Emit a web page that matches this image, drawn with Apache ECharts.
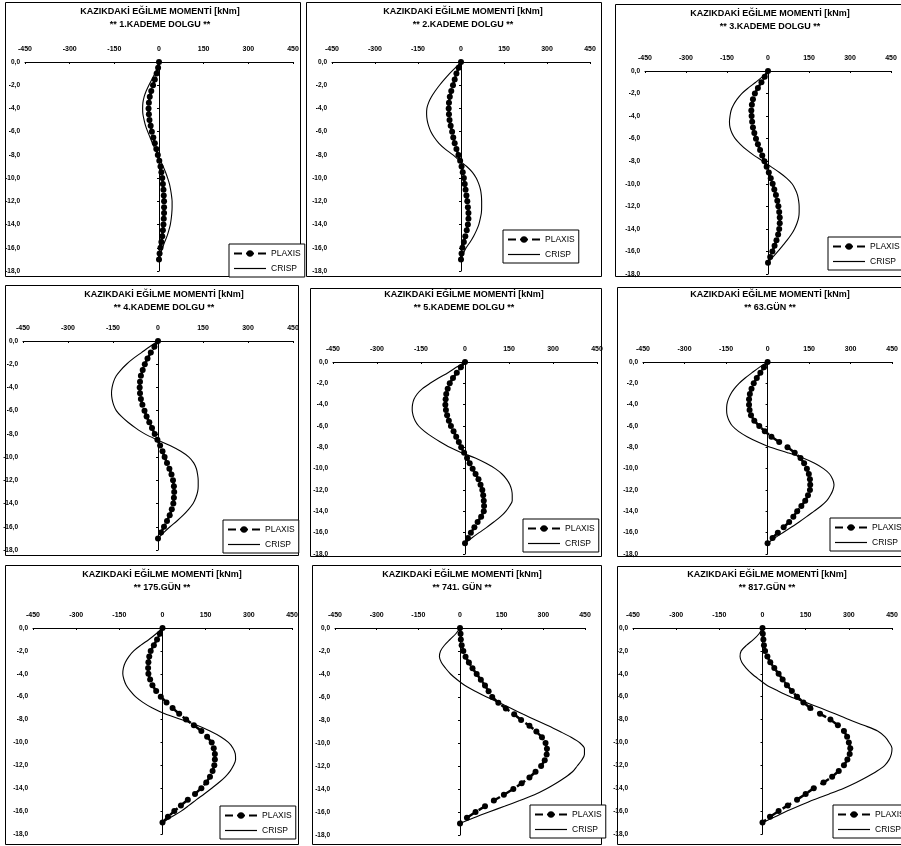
<!DOCTYPE html>
<html><head><meta charset="utf-8">
<script src="https://cdn.jsdelivr.net/npm/echarts@6/dist/echarts.min.js"></script>
<style>html,body{margin:0;padding:0;background:#fff}#c{width:901px;height:846px}</style>
</head><body><div id="c"></div>
<script>
const mainTitle = 'KAZIKDAKİ EĞİLME MOMENTİ [kNm]';
const subTitles = ['** 1.KADEME DOLGU **','** 2.KADEME DOLGU **','** 3.KADEME DOLGU **','** 4.KADEME DOLGU **','** 5.KADEME DOLGU **','** 63.GÜN **','** 175.GÜN **','** 741. GÜN **','** 817.GÜN **'];
const legendNames = ['PLAXIS','CRISP'];
const depth = [0,-0.5,-1,-1.5,-2,-2.5,-3,-3.5,-4,-4.5,-5,-5.5,-6,-6.5,-7,-7.5,-8,-8.5,-9,-9.5,-10,-10.5,-11,-11.5,-12,-12.5,-13,-13.5,-14,-14.5,-15,-15.5,-16,-16.5,-17];

const crisp1 = [0,-6,-14,-24,-34,-43,-50,-54,-55,-54,-50,-45,-38,-30,-22,-13,-4,5,14,22,29,35,39,42,44,44,43,41,38,33,27,19,12,5,0];
const plaxis1 = [0,-3,-8,-14,-20,-26,-31,-34,-35,-34,-32,-28,-24,-19,-14,-9,-4,1,5,8,11,13,15,16,17,17,17,16,15,13,11,8,5,2,0];
const crisp2 = [0,-20,-40,-58,-75,-90,-103,-113,-119,-120,-118,-113,-105,-93,-77,-55,-28,-5,20,40,53,62,68,71,72,72,71,67,62,54,44,32,18,8,0];
const plaxis2 = [0,-8,-16,-22,-28,-34,-39,-42,-43,-42,-40,-36,-31,-27,-22,-16,-9,-3,2,6,10,13,16,19,22,24,26,26,24,20,15,10,5,2,0];
const crisp3 = [0,-20,-45,-72,-96,-113,-126,-135,-139,-141,-139,-132,-120,-101,-78,-50,-18,12,42,68,88,100,108,112,114,114,112,106,97,85,70,53,36,17,0];
const plaxis3 = [0,-12,-24,-37,-48,-55,-59,-61,-60,-58,-55,-50,-44,-37,-29,-21,-13,-5,3,10,17,23,29,34,38,41,43,43,41,37,31,24,16,8,0];
const crisp4 = [0,-28,-55,-82,-105,-124,-139,-148,-153,-155,-153,-148,-139,-122,-100,-74,-44,-4,40,76,103,119,128,132,134,134,132,126,117,102,84,63,40,19,0];
const plaxis4 = [0,-12,-24,-35,-44,-51,-57,-60,-61,-60,-57,-52,-45,-38,-29,-20,-11,-2,7,15,22,30,38,45,50,53,54,53,51,46,39,30,20,10,0];
const crisp5 = [0,-30,-58,-90,-119,-145,-163,-174,-179,-180,-177,-170,-158,-138,-113,-84,-52,-12,35,72,103,126,142,153,159,161,161,152,139,121,98,74,48,23,0];
const plaxis5 = [0,-14,-28,-41,-52,-59,-64,-66,-67,-65,-61,-55,-48,-39,-30,-21,-13,-3,7,16,26,36,46,53,59,62,64,65,64,55,43,32,20,10,0];
const crisp6 = [0,-30,-56,-81,-103,-120,-133,-142,-147,-148,-146,-139,-127,-105,-74,-35,10,72,128,170,202,224,235,240,236,227,214,193,167,141,114,85,55,26,0];
const plaxis6 = [0,-13,-26,-39,-50,-58,-64,-67,-67,-65,-60,-48,-30,-10,14,42,72,98,119,132,142,149,153,154,153,146,136,122,107,93,78,58,37,18,0];
const crisp7 = [0,-22,-47,-75,-100,-117,-129,-136,-138,-134,-126,-112,-94,-68,-35,8,65,120,165,202,229,245,253,254,247,235,218,196,171,145,118,92,65,32,0];
const plaxis7 = [0,-9,-19,-30,-41,-46,-49,-50,-49,-43,-35,-22,-6,14,35,58,82,109,135,155,171,178,182,182,180,174,165,152,135,113,88,64,41,19,0];
const crisp8 = [0,-15,-36,-56,-70,-74,-67,-52,-34,-10,18,55,96,142,185,228,272,318,360,400,432,448,448,438,422,405,378,346,310,268,215,160,104,50,0];
const plaxis8 = [0,2,3,6,12,20,32,45,60,75,90,103,116,138,165,195,220,250,275,295,308,313,312,305,292,272,250,222,192,158,122,90,56,25,0];
const crisp9 = [0,-12,-31,-55,-74,-78,-72,-57,-37,-12,15,54,97,150,202,252,300,352,400,425,440,450,448,440,425,398,364,326,283,232,178,130,85,44,0];
const plaxis9 = [0,1,3,5,9,17,27,41,56,70,85,102,120,142,166,200,236,262,283,294,300,305,303,295,283,265,242,212,178,150,120,88,56,26,0];

const crispSets = [crisp1,crisp2,crisp3,crisp4,crisp5,crisp6,crisp7,crisp8,crisp9];
const plaxisSets = [plaxis1,plaxis2,plaxis3,plaxis4,plaxis5,plaxis6,plaxis7,plaxis8,plaxis9];

// layout (pixels)
const grids = [
  {left:25, top:62, width:268, height:209},
  {left:332, top:62, width:258, height:209},
  {left:645, top:71, width:246, height:203},
  {left:23, top:341, width:270, height:209},
  {left:333, top:362, width:264, height:192},
  {left:643, top:362, width:252, height:192},
  {left:33, top:628, width:259, height:206},
  {left:335, top:628, width:250, height:207},
  {left:633, top:628, width:259, height:206}
];
const frames = [[5,2,295,274],[306,2,295,274],[615,4,292,272],[5,285,293,270],[310,288,291,268],[617,287,290,269],[5,565,293,279],[312,565,289,279],[617,566,290,278]];
const titlePos = [[160,12],[463,12],[770,14],[164,295],[464,295],[770,295],[162,575],[462,575],[767,575]];
const legendPos = [[229,244],[503,230],[828,237],[223,520],[523,519],[830,518],[220,806],[530,805],[833,805]];

const FONT = 'Liberation Sans, Arial, sans-serif';
const option = {animation:false, backgroundColor:'#fff', grid:[], xAxis:[], yAxis:[], series:[], legend:[], graphic:[]};

for (let k=0;k<9;k++){
  option.grid.push(Object.assign({containLabel:false}, grids[k]));
  option.xAxis.push({type:'value', gridIndex:k, position:'top', min:-450, max:450, interval:150,
    axisLine:{show:true, onZero:false, lineStyle:{color:'#000', width:1}},
    axisTick:{show:true, inside:true, length:2, lineStyle:{color:'#000'}},
    axisLabel:{color:'#000', fontSize:7, fontWeight:'bold', fontFamily:FONT, margin:9},
    splitLine:{show:false}});
  option.yAxis.push({type:'value', gridIndex:k, position:'left', min:-18, max:0, interval:2,
    axisLine:{show:false, onZero:false}, axisTick:{show:false},
    axisLabel:{color:'#000', fontSize:6.5, fontWeight:'bold', fontFamily:FONT, margin:5,
      formatter:v=>v.toFixed(1).replace('.',',')},
    splitLine:{show:false}});
  option.yAxis.push({type:'value', gridIndex:k, min:-18, max:0, interval:2,
    axisLine:{show:true, onZero:true, lineStyle:{color:'#000', width:1}},
    axisTick:{show:true, inside:true, length:2, lineStyle:{color:'#000'}},
    axisLabel:{show:false}, splitLine:{show:false}});
  option.series.push({name:'CRISP', type:'line', xAxisIndex:k, yAxisIndex:2*k,
    data:depth.map((d,i)=>[crispSets[k][i], d]), smooth:0.3, symbol:'none',
    lineStyle:{color:'#000', width:1.1}, itemStyle:{color:'#000'}, z:3});
  option.series.push({name:'PLAXIS', type:'line', xAxisIndex:k, yAxisIndex:2*k,
    data:depth.map((d,i)=>[plaxisSets[k][i], d]), symbol:'circle', symbolSize:6, showAllSymbol:true,
    lineStyle:{color:'#000', width:2.5, type:'dashed'}, itemStyle:{color:'#000'}, z:4});
  option.legend.push({left:legendPos[k][0], top:legendPos[k][1], orient:'vertical',
    data:[{name:legendNames[0]}, {name:legendNames[1], itemStyle:{opacity:0}, lineStyle:{width:1.2, type:'solid', color:'#000'}}],
    backgroundColor:'#fff', borderColor:'#000', borderWidth:1, borderRadius:0, padding:[5,4,4,4], itemGap:6,
    itemWidth:32, itemHeight:8, selectedMode:false,
    textStyle:{fontSize:8.5, color:'#000', fontFamily:FONT}});
  const f = frames[k];
  option.graphic.push({type:'rect', z:-1, shape:{x:f[0]+0.5, y:f[1]+0.5, width:f[2], height:f[3]}, style:{fill:'none', stroke:'#000', lineWidth:1}});
  option.graphic.push({type:'text', x:titlePos[k][0], y:titlePos[k][1], style:{text:mainTitle, align:'center', verticalAlign:'middle', font:'bold 9px '+FONT, fill:'#000'}});
  option.graphic.push({type:'text', x:titlePos[k][0], y:titlePos[k][1]+13, style:{text:subTitles[k], align:'center', verticalAlign:'middle', font:'bold 9px '+FONT, fill:'#000'}});
}
const chart = echarts.init(document.getElementById('c'), null, {renderer:'canvas'});
chart.setOption(option);
</script></body></html>
